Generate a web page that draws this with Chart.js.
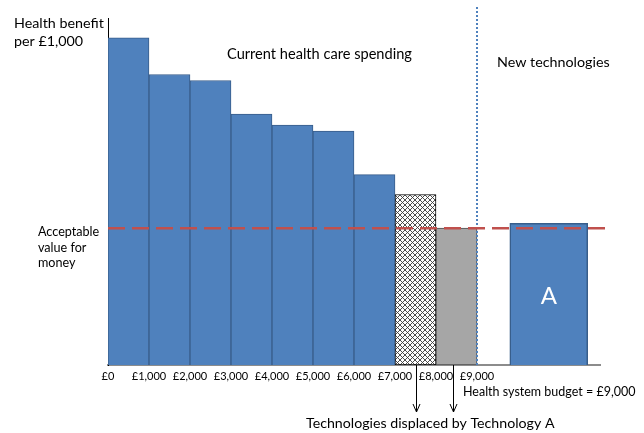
<!DOCTYPE html>
<html>
<head>
<meta charset="utf-8">
<script src="https://cdn.jsdelivr.net/npm/chart.js@4/dist/chart.umd.min.js"></script>
<style>
  html, body { margin: 0; padding: 0; background: #fff; }
  canvas { display: block; }
</style>
</head>
<body>
<canvas id="chart" width="644" height="433"></canvas>
<script>
// Spending axis, in £1,000 steps
const spendLabels = ['£0', '£1,000', '£2,000', '£3,000', '£4,000', '£5,000', '£6,000', '£7,000', '£8,000', '£9,000'];

// Health benefit per £1,000 for each £1,000 block of current spending
const currentBenefit = [33.0, 29.3, 28.7, 25.3, 24.2, 23.6, 19.2];
// The two blocks displaced by Technology A (£7,000–£8,000 and £8,000–£9,000)
const displacedBenefit = [17.2, 13.8];

// Technology A: cost span (in £1,000s) and benefit per £1,000
const techASpan = [9.8, 11.7];
const techABenefit = 14.3;

// Acceptable value-for-money threshold and total budget (in £1,000s)
const thresholdValue = 13.8;
const budgetValue = 9;

const FONT = 'Lato, "Open Sans", sans-serif';

function crossHatch() {
  const size = 5;
  const c = document.createElement('canvas');
  c.width = c.height = size;
  const g = c.getContext('2d');
  g.fillStyle = '#ffffff';
  g.fillRect(0, 0, size, size);
  g.strokeStyle = '#3a3a3a';
  g.lineWidth = 0.9;
  g.beginPath();
  g.moveTo(0, 0); g.lineTo(size, size);
  g.moveTo(size, 0); g.lineTo(0, size);
  g.stroke();
  return g.createPattern(c, 'repeat');
}

// Bar width in pixels for a span of the spending axis
function spanWidth(ctx, from, to) {
  const x = ctx.chart.scales.x;
  return Math.abs(x.getPixelForValue(to) - x.getPixelForValue(from));
}

const blockAt = (values, offset) => values.map((v, i) => ({ x: offset + i + 0.5, y: v }));

const annotations = {
  id: 'annotations',
  afterDatasetsDraw(chart) {
    const { ctx, scales: { x, y } } = chart;
    ctx.save();
    ctx.fillStyle = '#000';
    ctx.textBaseline = 'alphabetic';
    ctx.textAlign = 'left';

    ctx.font = '14.3px ' + FONT;
    ctx.fillText('Health benefit', 14, 28);
    ctx.fillText('per £1,000', 14, 46);

    ctx.font = '14.6px ' + FONT;
    ctx.fillText('Current health care spending', 227, 59);
    ctx.font = '14.3px ' + FONT;
    ctx.fillText('New technologies', 497, 67);

    ctx.font = '12.6px ' + FONT;
    ctx.fillText('Acceptable', 38, 236);
    ctx.fillText('value for', 38, 252);
    ctx.fillText('money', 38, 267);

    ctx.font = '12.5px ' + FONT;
    ctx.fillText('Health system budget = £9,000', 463, 396);

    ctx.font = '14.2px ' + FONT;
    ctx.fillText('Technologies displaced by Technology A', 306, 428);

    // Label inside the Technology A bar
    const aBar = chart.getDatasetMeta(2).data[0];
    if (aBar) {
      ctx.fillStyle = '#ffffff';
      ctx.font = '24px ' + FONT;
      ctx.textAlign = 'center';
      ctx.textBaseline = 'middle';
      ctx.fillText('A', aBar.x, (aBar.y + aBar.base) / 2 + 2);
    }

    // Arrows from the displaced blocks down to the caption
    ctx.strokeStyle = '#000';
    ctx.lineWidth = 1;
    const top = y.getPixelForValue(0);
    const tip = 412;
    [7.5, 8.42].forEach(v => {
      const px = Math.round(x.getPixelForValue(v)) + 0.5;
      ctx.beginPath();
      ctx.moveTo(px, top);
      ctx.lineTo(px, tip);
      ctx.moveTo(px - 3.5, tip - 8);
      ctx.lineTo(px, tip);
      ctx.lineTo(px + 3.5, tip - 8);
      ctx.stroke();
    });
    ctx.restore();
  }
};

new Chart(document.getElementById('chart'), {
  type: 'bar',
  data: {
    datasets: [
      {
        label: 'Current spending',
        data: blockAt(currentBenefit, 0),
        backgroundColor: '#4f81bd',
        borderColor: '#385d8a',
        borderWidth: 1,
        barPercentage: 1,
        categoryPercentage: 1,
        order: 2
      },
      {
        label: 'Displaced',
        data: blockAt(displacedBenefit, currentBenefit.length),
        backgroundColor: [crossHatch(), '#a6a6a6'],
        borderColor: ['#000000', '#4d4d4d'],
        borderWidth: 1,
        borderSkipped: false,
        barPercentage: 1,
        categoryPercentage: 1,
        order: 2
      },
      {
        label: 'Technology A',
        data: [{ x: (techASpan[0] + techASpan[1]) / 2, y: techABenefit }],
        backgroundColor: '#4f81bd',
        borderColor: '#385d8a',
        borderWidth: 1.5,
        barThickness: ctx => spanWidth(ctx, techASpan[0], techASpan[1]),
        order: 2
      },
      {
        type: 'line',
        label: 'Threshold',
        data: [{ x: 0, y: thresholdValue }, { x: 12.17, y: thresholdValue }],
        borderColor: '#c0504d',
        borderWidth: 2.5,
        borderDash: [17, 7],
        pointRadius: 0,
        clip: false,
        order: 0
      },
      {
        type: 'line',
        label: 'Budget',
        data: [{ x: budgetValue, y: 0 }, { x: budgetValue, y: 36.1 }],
        borderColor: '#4f81bd',
        borderWidth: 2,
        borderDash: [2, 2],
        pointRadius: 0,
        clip: false,
        order: 1
      }
    ]
  },
  options: {
    responsive: false,
    devicePixelRatio: 1,
    animation: false,
    grouped: false,
    layout: { padding: { left: 108, right: 44, top: 18, bottom: 44 } },
    plugins: {
      legend: { display: false },
      tooltip: { enabled: false },
      title: { display: false }
    },
    scales: {
      x: {
        type: 'linear',
        min: 0,
        max: 12,
        offset: false,
        grid: { display: false },
        border: { display: true, color: '#8c8c8c', width: 2 },
        ticks: {
          stepSize: 1,
          autoSkip: false,
          maxRotation: 0,
          padding: -3,
          color: '#000',
          font: { family: FONT, size: 11 },
          callback: v => spendLabels[v] ?? ''
        },
        afterFit: s => { s.height = 24; }
      },
      y: {
        min: 0,
        max: 35,
        grid: { display: false },
        border: { display: true, color: '#000', width: 1 },
        ticks: { display: false },
        afterFit: s => { s.width = 0; }
      }
    }
  },
  plugins: [annotations]
});
</script>
</body>
</html>
